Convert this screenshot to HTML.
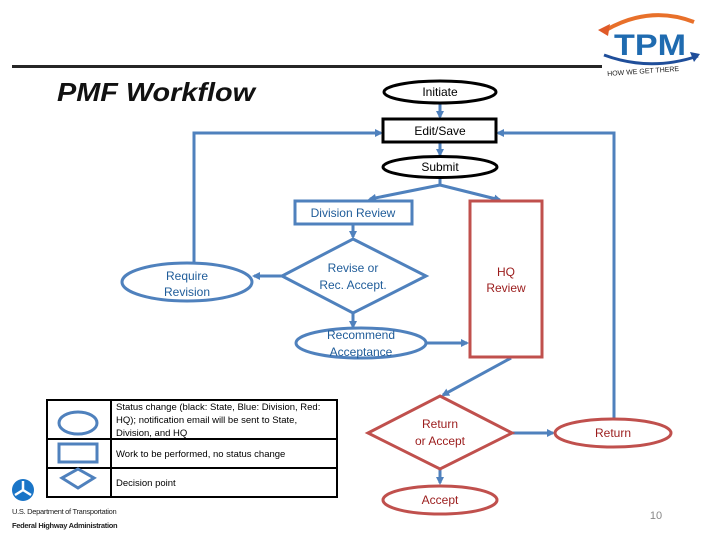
<!DOCTYPE html>
<html><head><meta charset="utf-8"><style>
html,body{margin:0;padding:0;background:#fff;}
svg{display:block;}
text{font-family:"Liberation Sans",sans-serif;}
</style></head><body>
<svg width="720" height="540" viewBox="0 0 720 540" xmlns="http://www.w3.org/2000/svg">
<defs>
<marker id="ab" markerWidth="8" markerHeight="8" refX="6" refY="4" orient="auto" markerUnits="userSpaceOnUse"><path d="M0,0 L8,4 L0,8 z" fill="#4f81bd"/></marker>
</defs>
<rect x="12" y="65" width="590" height="3" fill="#262626"/>
<text x="57" y="101" font-size="26" font-style="italic" font-weight="bold" fill="#111" textLength="198" lengthAdjust="spacingAndGlyphs">PMF Workflow</text>
<path d="M606,30 Q650,5 694,22" stroke="#e8702a" stroke-width="4" fill="none"/>
<path d="M598,30 L610,24 L608,36 z" fill="#e05a28"/>
<text x="614" y="55" font-size="30" font-weight="bold" fill="#1f6bb0" textLength="72" lengthAdjust="spacingAndGlyphs">TPM</text>
<path d="M604,55 Q650,72 698,56" stroke="#1f4e9a" stroke-width="3" fill="none"/>
<path d="M700,54 L690,52 L694,62 z" fill="#1f4e9a"/>
<text x="607" y="73" font-size="7" fill="#222" transform="rotate(-4 650 70)">HOW WE GET THERE</text>

<g stroke="#4f81bd" stroke-width="3" fill="none">
<line x1="440" y1="104" x2="440" y2="117" marker-end="url(#ab)"/>
<line x1="440" y1="142" x2="440" y2="155" marker-end="url(#ab)"/>
<polyline points="194,262 194,133 381,133" marker-end="url(#ab)"/>
<polyline points="614,419 614,133 498,133" marker-end="url(#ab)"/>
<polyline points="440,178 440,185 370,199" marker-end="url(#ab)"/>
<polyline points="440,185 500,200"  marker-end="url(#ab)"/>
<line x1="353" y1="224" x2="353" y2="237" marker-end="url(#ab)"/>
<line x1="282" y1="276" x2="254" y2="276" marker-end="url(#ab)"/>
<line x1="353" y1="313" x2="353" y2="327" marker-end="url(#ab)"/>
<line x1="426" y1="343" x2="467" y2="343" marker-end="url(#ab)"/>
<line x1="511" y1="358" x2="443" y2="395" marker-end="url(#ab)"/>
<line x1="512" y1="433" x2="553" y2="433" marker-end="url(#ab)"/>
<line x1="440" y1="469" x2="440" y2="483" marker-end="url(#ab)"/>
</g>

<ellipse cx="440" cy="92" rx="56" ry="11" fill="#fff" stroke="#000" stroke-width="3"/>
<text x="440" y="96" font-size="12" text-anchor="middle">Initiate</text>
<rect x="383" y="119" width="113" height="23" fill="#fff" stroke="#000" stroke-width="3"/>
<text x="440" y="135" font-size="12" text-anchor="middle">Edit/Save</text>
<ellipse cx="440" cy="167" rx="57" ry="10.5" fill="#fff" stroke="#000" stroke-width="3"/>
<text x="440" y="171" font-size="12" text-anchor="middle">Submit</text>

<g stroke="#4f81bd" stroke-width="3" fill="#fff">
<rect x="295" y="201" width="117" height="23"/>
<polygon points="353,239 426,276 353,313 282,276"/>
<ellipse cx="187" cy="282" rx="65" ry="19"/>
<ellipse cx="361" cy="343" rx="65" ry="15"/>
</g>
<g fill="#1f5c99" font-size="12" text-anchor="middle">
<text x="353" y="217">Division Review</text>
<text x="353" y="272">Revise or</text>
<text x="353" y="289">Rec. Accept.</text>
<text x="187" y="280">Require</text>
<text x="187" y="296">Revision</text>
<text x="361" y="339">Recommend</text>
<text x="361" y="356">Acceptance</text>
</g>

<g stroke="#c0504d" stroke-width="3" fill="#fff">
<rect x="470" y="201" width="72" height="156"/>
<polygon points="440,396 512,433 440,469 368,433"/>
<ellipse cx="613" cy="433" rx="58" ry="14"/>
<ellipse cx="440" cy="500" rx="57" ry="14"/>
</g>
<g fill="#9b1c1c" font-size="12" text-anchor="middle">
<text x="506" y="276">HQ</text>
<text x="506" y="292">Review</text>
<text x="440" y="428">Return</text>
<text x="440" y="445">or Accept</text>
<text x="613" y="437">Return</text>
<text x="440" y="504">Accept</text>
</g>

<rect x="47" y="400" width="290" height="97" fill="none" stroke="#000" stroke-width="2"/>
<line x1="111" y1="400" x2="111" y2="497" stroke="#000" stroke-width="2"/>
<line x1="47" y1="439" x2="337" y2="439" stroke="#000" stroke-width="2"/>
<line x1="47" y1="468" x2="337" y2="468" stroke="#000" stroke-width="2"/>
<ellipse cx="78" cy="423" rx="19" ry="11" fill="none" stroke="#4f81bd" stroke-width="3"/>
<rect x="59" y="444" width="38" height="18" fill="none" stroke="#4f81bd" stroke-width="3"/>
<polygon points="78,469 94,478 78,488 62,478" fill="none" stroke="#4f81bd" stroke-width="3"/>
<g font-size="9.5" fill="#000">
<text x="116" y="410">Status change (black: State, Blue: Division, Red:</text>
<text x="116" y="423">HQ); notification email will be sent to State,</text>
<text x="116" y="436">Division, and HQ</text>
<text x="116" y="457">Work to be performed, no status change</text>
<text x="116" y="486">Decision point</text>
</g>

<circle cx="23" cy="490" r="11" fill="#1a75c7"/>
<path d="M23,490 L23,481 M23,490 L15,495 M23,490 L31,495" stroke="#fff" stroke-width="2.5"/>
<text x="12" y="514" font-size="7.5" fill="#222" letter-spacing="-0.3">U.S. Department of Transportation</text>
<text x="12" y="528" font-size="7.5" font-weight="bold" fill="#222" letter-spacing="-0.3">Federal Highway Administration</text>

<text x="656" y="519" font-size="11" fill="#888" text-anchor="middle">10</text>
</svg>
</body></html>
